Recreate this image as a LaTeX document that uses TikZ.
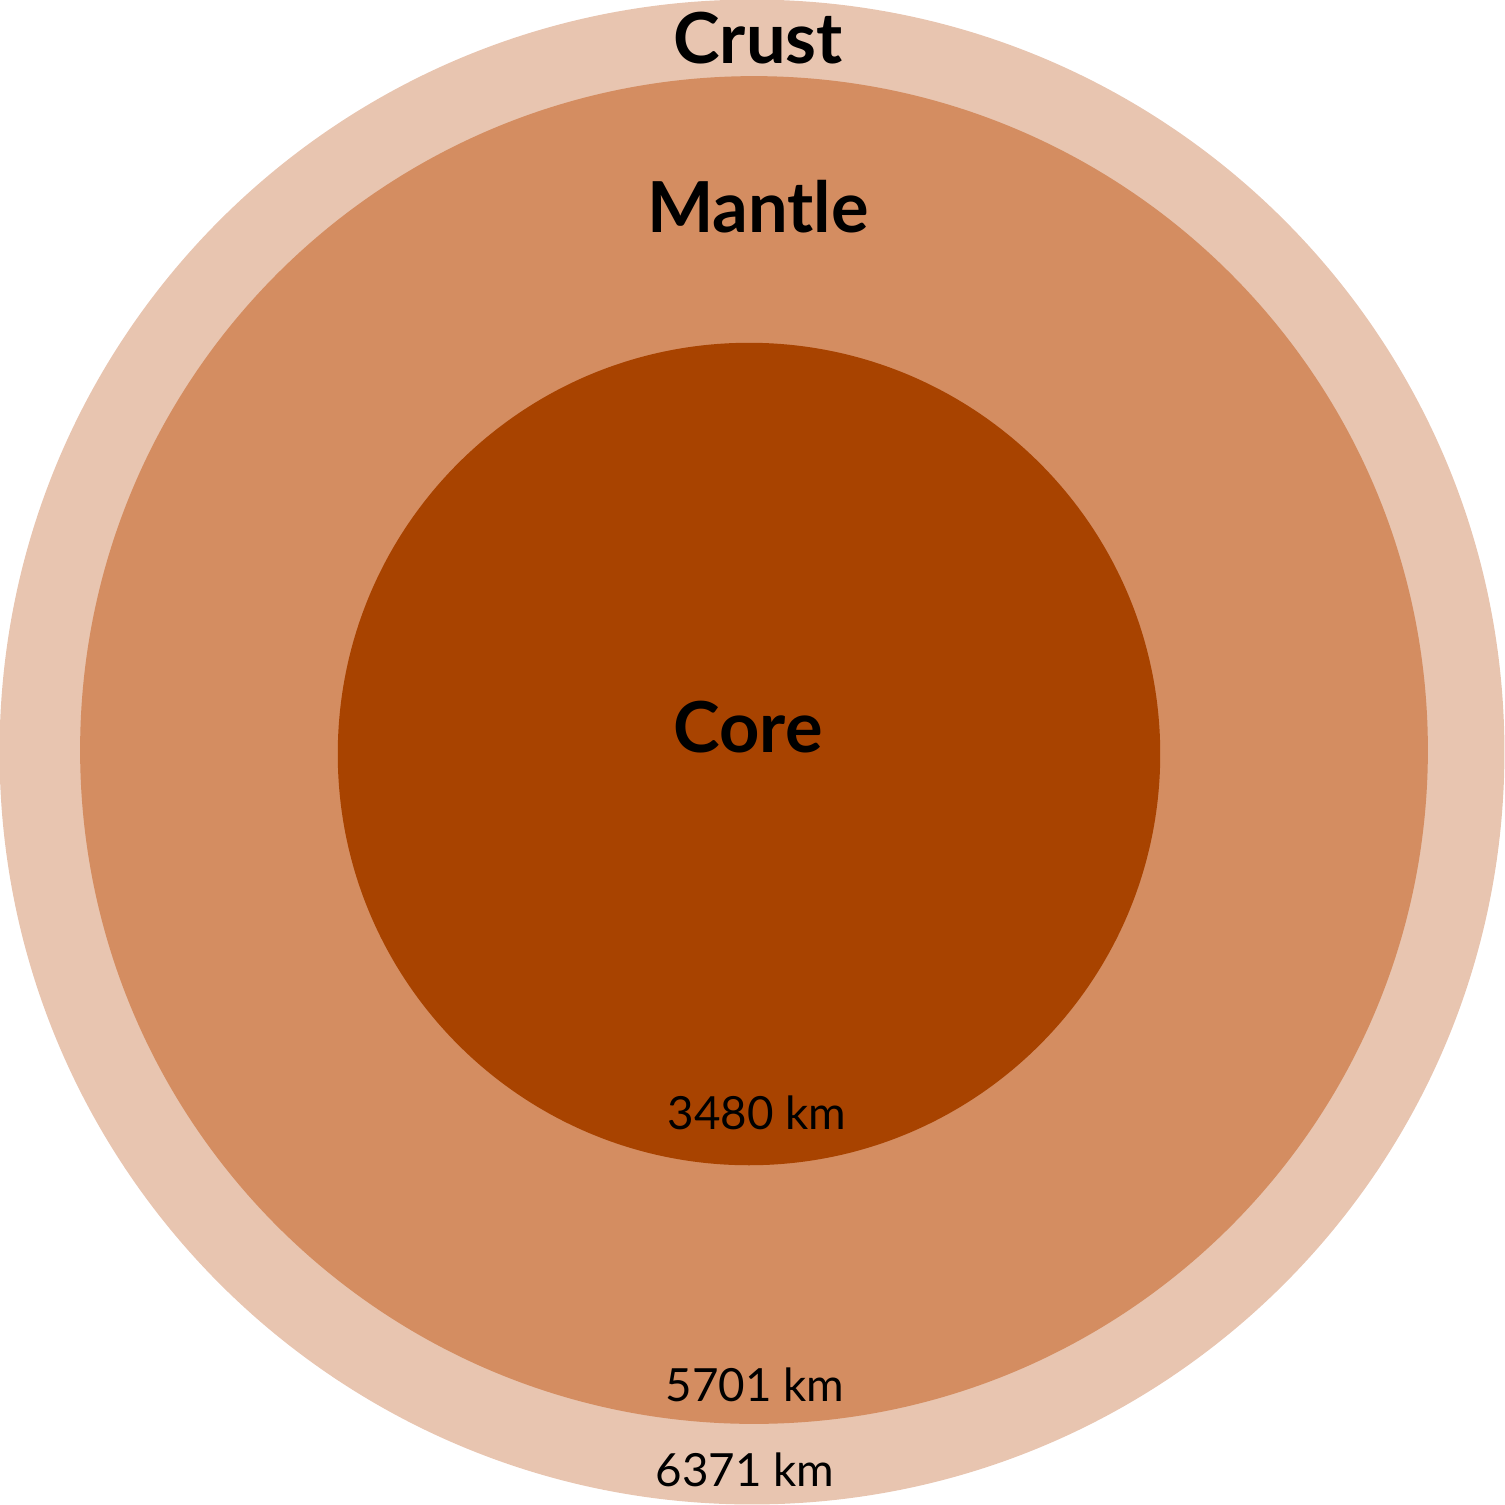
\documentclass[tikz,border=0pt]{standalone}
\usepackage{fontspec}
\setmainfont{Lato}
\usetikzlibrary{positioning}
\definecolor{crustcol}{HTML}{E8C5B0}
\definecolor{mantlecol}{HTML}{D48D61}
\definecolor{corecol}{HTML}{A84300}
\tikzset{
  layer/.style={circle, inner sep=0pt, draw=none},
  title/.style={font=\fontsize{20}{24}\selectfont\bfseries},
  radius label/.style={font=\fontsize{13}{16}\selectfont}
}
\begin{document}
\begin{tikzpicture}[x=0.01cm, y=-0.01cm]
    \useasboundingbox (0,0) rectangle (1505,1505);

    % Layers
    \node[layer, fill=crustcol, minimum size=15.04cm] (crust) at (752,752) {};
    \node[layer, fill=mantlecol, minimum size=13.47cm] (mantle) at (754,750) {};
    \node[layer, fill=corecol, minimum size=8.22cm] (core) at (749,754) {};

    % Names
    \node[title] (crustname) at (758,38) {Crust};
    \node[title] (mantlename) at (758,207) {Mantle};
    \node[title] (corename) at (748,727) {Core};

    % Radii
    \node[radius label] (corer) at (757,1113) {3480 km};
    \node[radius label] (mantler) at (755,1385) {5701 km};
    \node[radius label] (crustr) at (745,1470) {6371 km};
\end{tikzpicture}
\end{document}
